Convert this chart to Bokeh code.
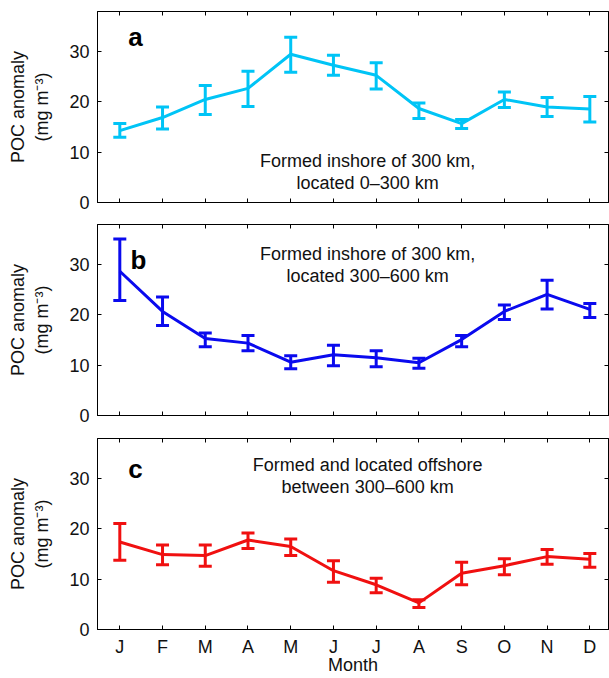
from bokeh.plotting import figure
from bokeh.layouts import column
from bokeh.models import (ColumnDataSource, Whisker, TeeHead, FixedTicker,
                          LinearAxis, Range1d, Label)
from bokeh.core.properties import value
from bokeh.embed import file_html
from bokeh.resources import INLINE

# ---- data ----
months = list(range(1, 13))
month_labels = ["J", "F", "M", "A", "M", "J", "J", "A", "S", "O", "N", "D"]
y_ticks = [0, 10, 20, 30]

a_mean = [14.3, 16.9, 20.5, 22.7, 29.5, 27.3, 25.3, 18.7, 15.7, 20.5, 19.0, 18.6]
a_upper = [15.7, 19.0, 23.3, 26.1, 32.9, 29.3, 27.8, 19.8, 16.5, 22.0, 20.9, 21.1]
a_lower = [13.0, 14.6, 17.5, 19.1, 25.9, 25.3, 22.6, 16.7, 14.7, 18.9, 17.1, 16.0]

b_mean = [28.7, 20.7, 15.3, 14.4, 10.6, 12.1, 11.5, 10.5, 15.1, 20.7, 24.1, 21.1]
b_upper = [35.1, 23.6, 16.4, 15.9, 11.9, 14.0, 12.9, 11.4, 15.9, 22.0, 26.9, 22.3]
b_lower = [22.9, 17.9, 13.7, 12.9, 9.3, 9.9, 9.7, 9.4, 13.7, 19.1, 21.2, 19.5]

c_mean = [17.4, 14.9, 14.7, 17.8, 16.5, 11.7, 8.9, 5.3, 11.2, 12.7, 14.5, 14.0]
c_upper = [21.1, 16.8, 16.8, 19.2, 18.0, 13.7, 10.2, 5.9, 13.4, 14.1, 15.9, 15.1]
c_lower = [13.8, 12.9, 12.6, 16.1, 14.7, 9.4, 7.3, 4.4, 8.9, 10.9, 13.0, 12.4]

panel_letters = ["a", "b", "c"]
panel_notes = [
    ["Formed inshore of 300 km,", "located 0\u2013300 km"],
    ["Formed inshore of 300 km,", "located 300\u2013600 km"],
    ["Formed and located offshore", "between 300\u2013600 km"],
]
y_label = "POC anomaly\n(mg m\u207b\u00b3)"
x_label = "Month"

# ---- styles / layout ----
FONT = "Liberation Sans"
TXT = "#111111"
colors = ["#00C4F6", "#0A0AEE", "#F01010"]
letter_pos = [(1.2, 33.0), (1.25, 30.9), (1.2, 32.0)]
note_pos = [(6.8, [8.3, 3.9]), (6.8, [32.2, 27.8]), (6.8, [32.7, 28.3])]
heights = [213, 214, 251]
borders_top = [11, 11, 11]
borders_bottom = [11, 12, 49]


def hide_labels(axis):
    axis.major_label_text_font_size = "1px"
    axis.major_label_text_color = None
    axis.major_label_standoff = 0


def make_panel(i, mean, upper, lower):
    color = colors[i]
    p = figure(width=609, height=heights[i], output_backend="svg",
               toolbar_location=None, x_range=Range1d(0.478, 12.437),
               y_range=Range1d(0, 38),
               min_border_left=97, min_border_right=1,
               min_border_top=borders_top[i], min_border_bottom=borders_bottom[i])
    p.outline_line_color = "#000000"
    p.outline_line_width = 1
    p.xgrid.visible = False
    p.ygrid.visible = False

    # bottom axis
    xa = p.xaxis[0]
    xa.ticker = FixedTicker(ticks=months)
    xa.major_label_overrides = {m: l for m, l in zip(months, month_labels)}
    xa.major_tick_in = 4
    xa.major_tick_out = 0
    xa.minor_tick_line_color = None
    xa.axis_line_color = "#000000"
    xa.major_tick_line_color = "#000000"
    if i == 2:
        xa.major_label_text_font = FONT
        xa.major_label_text_font_size = "18px"
        xa.major_label_text_color = TXT
        xa.major_label_standoff = 7
        xa.axis_label = x_label
        xa.axis_label_text_font = FONT
        xa.axis_label_text_font_size = "18px"
        xa.axis_label_text_font_style = "normal"
        xa.axis_label_text_color = TXT
        xa.axis_label_standoff = -5
    else:
        hide_labels(xa)

    # left axis
    ya = p.yaxis[0]
    ya.ticker = FixedTicker(ticks=y_ticks)
    ya.major_tick_in = 4
    ya.major_tick_out = 0
    ya.minor_tick_line_color = None
    ya.axis_line_color = "#000000"
    ya.major_tick_line_color = "#000000"
    ya.major_label_text_font = FONT
    ya.major_label_text_font_size = "18px"
    ya.major_label_text_color = TXT
    ya.major_label_standoff = 8
    ya.axis_label = y_label
    ya.axis_label_text_font = FONT
    ya.axis_label_text_font_size = "18px"
    ya.axis_label_text_font_style = "normal"
    ya.axis_label_text_color = TXT
    ya.axis_label_standoff = 14

    # top & right tick-only axes
    top = LinearAxis(ticker=FixedTicker(ticks=months), major_tick_in=4,
                     major_tick_out=0, minor_tick_line_color=None,
                     axis_line_color="#000000", major_tick_line_color="#000000")
    hide_labels(top)
    p.add_layout(top, "above")
    right = LinearAxis(ticker=FixedTicker(ticks=y_ticks), major_tick_in=4,
                       major_tick_out=0, minor_tick_line_color=None,
                       axis_line_color="#000000", major_tick_line_color="#000000")
    hide_labels(right)
    p.add_layout(right, "right")

    src = ColumnDataSource(dict(x=months, mean=mean, upper=upper, lower=lower))
    w = Whisker(source=src, base="x", upper="upper", lower="lower",
                line_color=color, line_width=3,
                upper_head=TeeHead(size=13, line_color=color, line_width=3),
                lower_head=TeeHead(size=13, line_color=color, line_width=3))
    p.add_layout(w)
    p.line("x", "mean", source=src, line_color=color, line_width=3)

    lx, ly = letter_pos[i]
    p.add_layout(Label(x=lx, y=ly, text=panel_letters[i], text_font=FONT,
                       text_font_size="26px", text_font_style="bold",
                       text_color="#000000", text_align="left",
                       text_baseline="alphabetic"))
    nx, nys = note_pos[i]
    p.text(x=[nx, nx], y=nys, text=panel_notes[i], text_align="center",
           text_baseline="middle", text_font=value(FONT),
           text_font_size="18px", text_color=TXT)
    return p


pa = make_panel(0, a_mean, a_upper, a_lower)
pb = make_panel(1, b_mean, b_upper, b_lower)
pc = make_panel(2, c_mean, c_upper, c_lower)

layout = column(pa, pb, pc, spacing=0)
open("out.html", "w").write(file_html(layout, INLINE))
